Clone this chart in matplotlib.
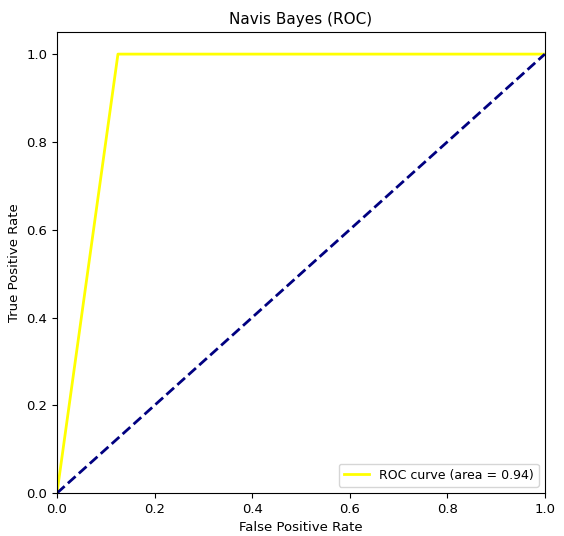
import matplotlib
matplotlib.use("Agg")
import matplotlib.pyplot as plt

# ROC points
fpr = [0.0, 0.125, 1.0]
tpr = [0.0, 1.0, 1.0]
roc_auc = 0.94

diag_x = [0, 1]
diag_y = [0, 1]

fig = plt.figure(figsize=(5.64, 5.36), dpi=100)
ax = fig.add_axes([0.101, 0.080, 0.865, 0.860])

ax.plot(fpr, tpr, color='yellow', lw=2, label='ROC curve (area = %0.2f)' % roc_auc)
ax.plot(diag_x, diag_y, color='navy', lw=2, linestyle='--')
ax.set_xlim([0.0, 1.0])
ax.set_ylim([0.0, 1.05])
ax.set_xlabel('False Positive Rate', fontsize=9.5)
ax.set_ylabel('True Positive Rate', fontsize=9.5)
ax.set_title('Navis Bayes (ROC)', fontsize=11)
ax.tick_params(labelsize=9.5)
ax.legend(loc="lower right", fontsize=9)

fig.savefig("out.png", dpi=100)
